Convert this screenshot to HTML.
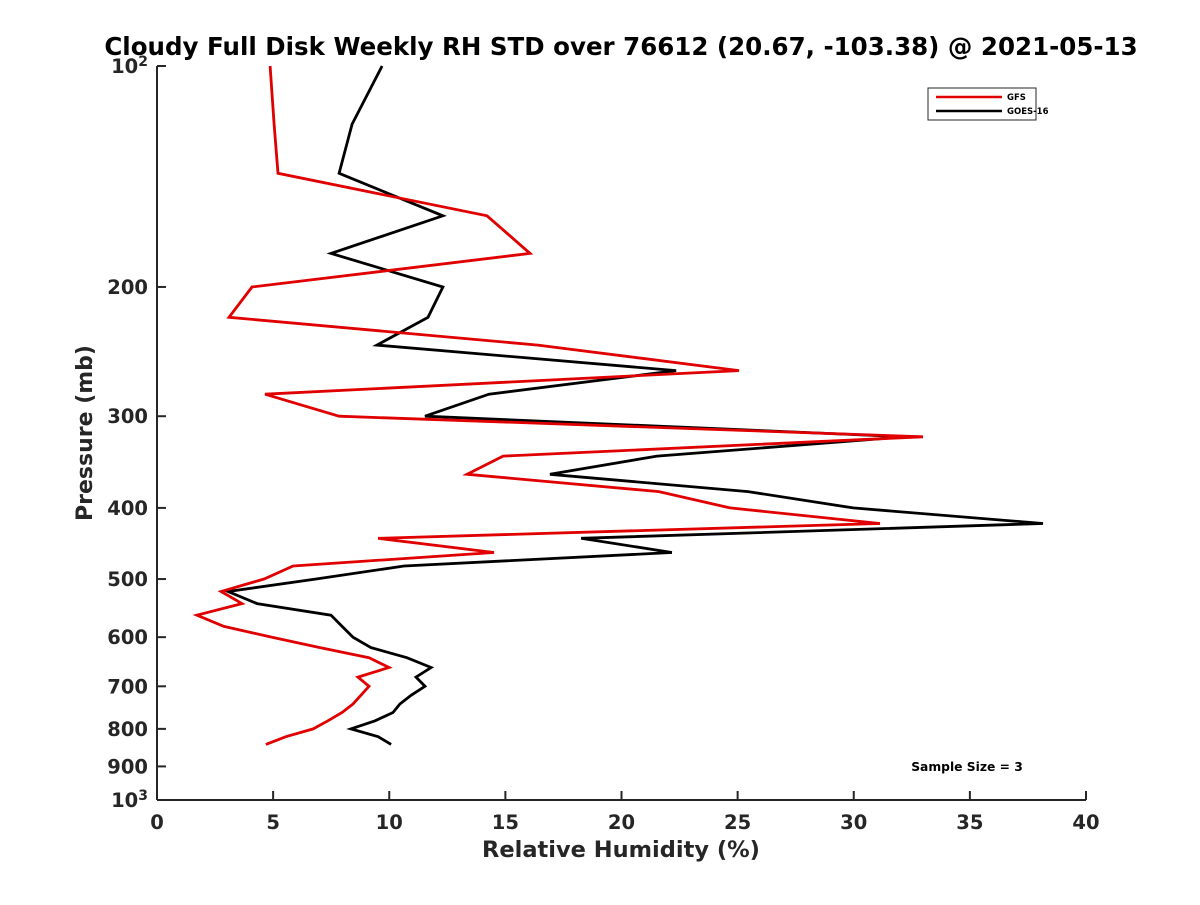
<!DOCTYPE html>
<html><head><meta charset="utf-8"><style>
body{margin:0;background:#fff;}
svg text{font-family:"DejaVu Sans","Liberation Sans",sans-serif;font-weight:bold;fill:#262626;}
</style></head><body>
<svg id="chart" width="1200" height="900" xmlns="http://www.w3.org/2000/svg">
<rect width="1200" height="900" fill="#fff"/>
<text x="621" y="55" text-anchor="middle" font-size="24.5" style="fill:#000">Cloudy Full Disk Weekly RH STD over 76612 (20.67, -103.38) @ 2021-05-13</text>
<g id="axes"></g>
<g id="series"></g>
<g>
<rect x="928" y="88" width="108" height="32" fill="#fff" stroke="#262626" stroke-width="1"/>
<line x1="936" y1="97" x2="1002" y2="97" stroke="#e00000" stroke-width="2.5"/>
<text x="1007" y="100" font-size="8.5" style="fill:#000">GFS</text>
<line x1="936" y1="111" x2="1002" y2="111" stroke="#000" stroke-width="2.5"/>
<text x="1007" y="114" font-size="8.5" style="fill:#000">GOES-16</text>
</g>
<text x="967" y="771" text-anchor="middle" font-size="12.3" style="fill:#000">Sample Size = 3</text>
<text x="621" y="857" text-anchor="middle" font-size="22.5">Relative Humidity (%)</text>
<text transform="translate(92,433) rotate(-90)" text-anchor="middle" font-size="22">Pressure (mb)</text>
</svg>
<script>
const pressures=[100,120,140,160,180,200,220,240,260,280,300,320,340,360,380,400,420,440,460,480,500,520,540,560,580,600,620,640,660,680,700,720,740,760,780,800,820,840];
const gfsValues=[4.87,5.04,5.21,14.21,16.06,4.09,3.10,16.40,25.06,4.65,7.84,32.98,14.90,13.35,21.61,24.67,31.13,9.52,14.51,5.86,4.61,2.76,3.66,1.72,2.88,4.95,7.02,9.13,9.99,8.65,9.13,8.78,8.44,7.97,7.36,6.72,5.55,4.69];
const goesValues=[9.69,8.40,7.84,12.31,7.49,12.31,11.67,9.47,22.35,14.29,11.54,32.21,21.53,16.92,25.45,29.97,38.15,18.26,22.17,10.64,6.85,3.06,4.31,7.49,7.97,8.44,9.21,10.76,11.80,11.15,11.54,10.94,10.46,10.16,9.39,8.35,9.52,10.08];
const xTicks=[0,5,10,15,20,25,30,35,40];
const yTicks=[100,200,300,400,500,600,700,800,900,1000];
const yTickLabels=["10","200","300","400","500","600","700","800","900","10"];
const yTickSup=["2","","","","","","","","","3"];
const X0=157,X1=1086,Y0=66,Y1=800;
function xs(v){return X0+(v-0)/(40-0)*(X1-X0);}
function ys(p){return Y0+Math.log10(p/100)*(Y1-Y0);}
const NS="http://www.w3.org/2000/svg";
const axes=document.getElementById('axes');
function mk(tag,attrs,parent){const e=document.createElementNS(NS,tag);for(const k in attrs)e.setAttribute(k,attrs[k]);parent.appendChild(e);return e;}
let l=mk('line',{x1:X0,y1:Y0,x2:X0,y2:Y1,stroke:'#262626','stroke-width':2},axes);


l=mk('line',{x1:X0,y1:Y1,x2:X1,y2:Y1,stroke:'#262626','stroke-width':2},axes);


xTicks.forEach(v=>{
 const t=mk('line',{x1:xs(v),y1:Y1,x2:xs(v),y2:Y1-9,stroke:'#262626','stroke-width':2},axes);
 
 
 const tx=mk('text',{x:xs(v),y:Y1+29,'text-anchor':'middle','font-size':19.5},axes);
 tx.textContent=v;
 
 
});
yTicks.forEach((p,i)=>{
 const t=mk('line',{x1:X0,y1:ys(p),x2:X0+9,y2:ys(p),stroke:'#262626','stroke-width':2},axes);
 
 
 const tx=mk('text',{x:X0-9,y:ys(p)+7,'text-anchor':'end','font-size':19.5},axes);
 tx.textContent=yTickLabels[i];
 if(yTickSup[i]){
  const s=document.createElementNS(NS,'tspan');
  s.setAttribute('font-size','14');
  s.setAttribute('dy','-7');
  s.textContent=yTickSup[i];
  tx.appendChild(s);
 }
 
 
});
const series=document.getElementById('series');
function line(vals,color,name){
 const pts=vals.map((v,i)=>xs(v).toFixed(1)+','+ys(pressures[i]).toFixed(1)).join(' ');
 const pl=mk('polyline',{points:pts,fill:'none',stroke:color,'stroke-width':2.8,'stroke-linejoin':'miter'},series);
 
 
}
line(goesValues,'#000','goes16-line');
line(gfsValues,'#e00000','gfs-line');
</script>
</body></html>
